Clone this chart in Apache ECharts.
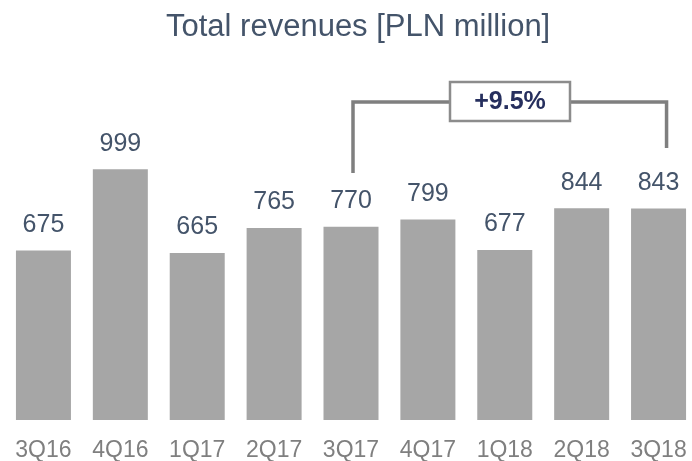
<!DOCTYPE html>
<html>
<head>
<meta charset="utf-8">
<script src="https://cdn.jsdelivr.net/npm/echarts@6/dist/echarts.min.js"></script>
<style>
  html, body { margin: 0; padding: 0; background: #fff; }
  #main { width: 692px; height: 461px; }
</style>
</head>
<body>
<div id="main"></div>
<script>
// data ==================================================================
var quarters = ['3Q16', '4Q16', '1Q17', '2Q17', '3Q17', '4Q17', '1Q18', '2Q18', '3Q18'];
var revenues = [675, 999, 665, 765, 770, 799, 677, 844, 843];
var growthLabel = '+9.5%';
var growthFrom = '3Q17';
var growthTo = '3Q18';

var FONT = 'Liberation Sans, Arial, Helvetica, sans-serif';

var chart = echarts.init(document.getElementById('main'));

var option = {
    animation: false,
    title: {
        text: 'Total revenues [PLN million]',
        left: 161,
        top: 7,
        textStyle: {
            color: '#44546a',
            fontFamily: FONT,
            fontSize: 31,
            fontWeight: 'normal'
        }
    },
    grid: {
        left: 5,
        right: -5,
        top: 169,
        bottom: 41,
        outerBoundsMode: 'none'
    },
    xAxis: {
        type: 'category',
        data: quarters,
        axisLine: { show: false },
        axisTick: { show: false },
        axisLabel: {
            margin: 19,
            color: '#7f7f7f',
            fontFamily: FONT,
            fontSize: 23
        }
    },
    yAxis: {
        type: 'value',
        min: 0,
        max: 1000,
        show: false,
        splitLine: { show: false }
    },
    series: [{
        type: 'bar',
        data: revenues,
        barWidth: 55,
        itemStyle: { color: '#a6a6a6' },
        label: {
            show: true,
            position: 'top',
            distance: 13,
            color: '#44546a',
            fontFamily: FONT,
            fontSize: 25
        }
    }]
};

chart.setOption(option);

// growth bracket -----------------------------------------------------------
function drawBracket() {
    var x1 = chart.convertToPixel({ xAxisIndex: 0 }, growthFrom) + 2;
    var x2 = chart.convertToPixel({ xAxisIndex: 0 }, growthTo) + 8;
    var yTop = 102;
    var boxL = 450, boxR = 570, boxT = 82, boxB = 121;
    var lineStyle = { stroke: '#7f7f7f', lineWidth: 3.5, fill: null };
    chart.setOption({
        graphic: [
            { type: 'polyline', shape: { points: [[x1, 173], [x1, yTop], [boxL, yTop]] }, style: lineStyle },
            { type: 'polyline', shape: { points: [[boxR, yTop], [x2, yTop], [x2, 148]] }, style: lineStyle },
            { type: 'rect', shape: { x: boxL, y: boxT, width: boxR - boxL, height: boxB - boxT },
              style: { fill: '#ffffff', stroke: '#8c8c8c', lineWidth: 2.5 } },
            { type: 'text', x: (boxL + boxR) / 2, y: (boxT + boxB) / 2 + 1,
              style: { text: growthLabel, fill: '#262f5e', font: 'bold 25px ' + FONT,
                       align: 'center', verticalAlign: 'middle' } }
        ]
    });
}
drawBracket();
</script>
</body>
</html>
